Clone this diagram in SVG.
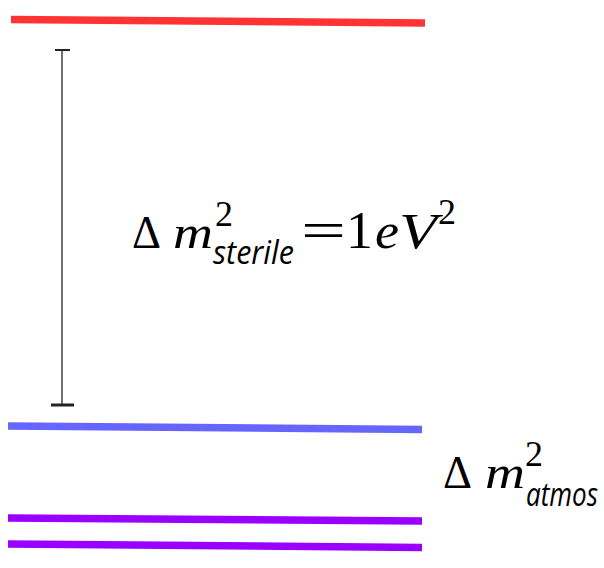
<svg xmlns="http://www.w3.org/2000/svg" width="604" height="568" viewBox="0 0 604 568">
<style>
.lvl{fill:none;stroke-width:7.5;stroke-linecap:butt}
.serif{font-family:"Liberation Serif","DejaVu Serif",serif;fill:#000}
.it{font-style:italic}
.sub{font-family:"Open Sans","DejaVu Sans",sans-serif;font-style:italic;fill:#000}
.bar{stroke:#222;fill:none}
</style>
<rect width="604" height="568" fill="#fff"/>
<g id="level-sterile"><line class="lvl" x1="11" y1="19.5" x2="425" y2="23" stroke="#ff3333"/></g>
<g id="level-3"><line class="lvl" x1="8" y1="426" x2="422" y2="429.5" stroke="#6666ff"/></g>
<g id="level-2"><line class="lvl" x1="8" y1="518" x2="422" y2="521" stroke="#9900ff"/></g>
<g id="level-1"><line class="lvl" x1="8" y1="544" x2="422" y2="547.5" stroke="#9900ff"/></g>
<g id="connectors">
<line class="bar" x1="62" y1="50" x2="62" y2="405" stroke-width="1.3"/>
<line class="bar" x1="55" y1="50" x2="70" y2="50" stroke-width="2"/>
<line class="bar" x1="51" y1="405" x2="74" y2="405" stroke-width="3"/>
</g>
<g id="label-sterile">
<text class="serif" x="132" y="248" font-size="46" textLength="29" lengthAdjust="spacingAndGlyphs">Δ</text>
<text class="serif it" x="173" y="248" font-size="47" textLength="40" lengthAdjust="spacingAndGlyphs">m</text>
<text class="serif" x="215" y="226" font-size="36">2</text>
<text class="sub" transform="translate(213,264) scale(0.8,1)" font-size="32" textLength="101" lengthAdjust="spacingAndGlyphs">sterile</text>
<text class="serif" x="301" y="248" font-size="52" textLength="45" lengthAdjust="spacingAndGlyphs">=</text>
<text class="serif" x="346" y="248" font-size="52" textLength="27" lengthAdjust="spacingAndGlyphs">1</text>
<text class="serif it" x="375" y="248" font-size="50" textLength="24" lengthAdjust="spacingAndGlyphs">e</text>
<text class="serif it" x="399" y="248" font-size="50" textLength="38" lengthAdjust="spacingAndGlyphs">V</text>
<text class="serif" x="438" y="224" font-size="36">2</text>
</g>
<g id="label-atmos">
<text class="serif" x="443" y="488" font-size="46" textLength="29" lengthAdjust="spacingAndGlyphs">Δ</text>
<text class="serif it" x="485" y="488" font-size="47" textLength="40" lengthAdjust="spacingAndGlyphs">m</text>
<text class="serif" x="525" y="466" font-size="36">2</text>
<text class="sub" transform="translate(526,506) scale(0.8,1)" font-size="32" textLength="90" lengthAdjust="spacingAndGlyphs">atmos</text>
</g>
</svg>
